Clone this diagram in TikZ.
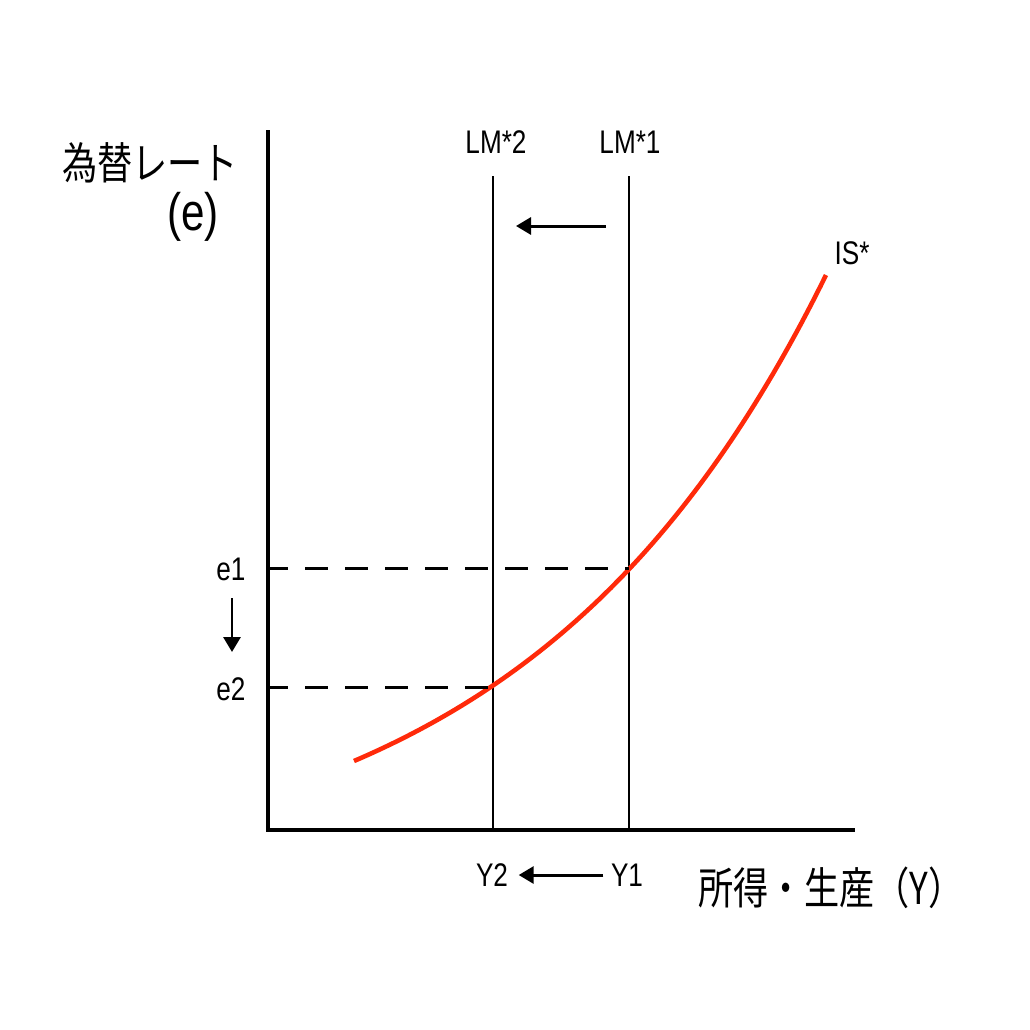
\documentclass[tikz,border=0pt]{standalone}
\usepackage{fontspec}
\setmainfont{Liberation Sans}[FakeStretch=0.8]
\newfontfamily\jpfont{Noto Sans CJK JP}[FakeStretch=0.8]
\usetikzlibrary{arrows.meta}
\definecolor{isred}{HTML}{FF2A0A}

\begin{document}
\begin{tikzpicture}[x=0.01cm, y=-0.01cm]
    \tikzstyle{every node}=[align=center, inner sep=0pt];
    \tikzstyle{small} = [font=\fontsize{9.3}{11}\selectfont]
    \tikzstyle{axistext} = [font=\fontsize{12.5}{15}\selectfont\jpfont]
    \tikzstyle{axis} = [line width=1.3pt]
    \tikzstyle{lm} = [line width=0.7pt]
    \tikzstyle{guide} = [line width=0.85pt, dash pattern=on 0.23cm off 0.17cm, dash phase=0.03cm]
    \tikzstyle{flow} = [-{Triangle[length=0.15cm, width=0.17cm]}, line width=0.85pt]
    \tikzstyle{isline} = [line width=1.3pt, draw=isred]

    \useasboundingbox (0,0) rectangle (1030,1030);

    % axes
    \coordinate (O) at (268,830);
    \coordinate (Ytop) at (268,130);
    \coordinate (Xend) at (855,830);
    \draw[axis] (Ytop) -- (O) -- (Xend);

    \node[axistext] (ylab) at (150,163) {為替レート};
    \node[font=\fontsize{15}{18}\selectfont] (ysym) at (193,217) {(e)};
    \node[axistext] (xlab) at (831,888) {所得・生産（Y）};

    % LM* curves
    \node[small] (LM2) at (496,142) {LM*2};
    \node[small] (LM1) at (630,142) {LM*1};
    \coordinate (lm2top) at (493,176);
    \coordinate (lm2bot) at (493,830);
    \coordinate (lm1top) at (629,176);
    \coordinate (lm1bot) at (629,830);
    \draw[lm] (lm2top) -- (lm2bot);
    \draw[lm] (lm1top) -- (lm1bot);

    \coordinate (shiftA) at (606,226);
    \coordinate (shiftB) at (516,226);
    \draw[flow] (shiftA) -- (shiftB);

    % IS* curve
    \draw[isline] plot[domain=354:826, samples=80] (\x, {830 - (130*exp(0.0033*(\x-354)) - 61)});
    \node[small] (IS) at (852,253) {IS*};

    % equilibria
    \coordinate (E1) at (629,568);
    \coordinate (E2) at (493,687);
    \draw[guide] (O |- E1) -- (E1);
    \draw[guide] (O |- E2) -- (E2);

    \node[small] (e1) at (231,569) {e1};
    \node[small] (e2) at (231,689) {e2};
    \coordinate (eA) at (232,598);
    \coordinate (eB) at (232,652);
    \draw[flow] (eA) -- (eB);

    \node[small] (Y2) at (492,875) {Y2};
    \node[small] (Y1) at (627,875) {Y1};
    \draw[flow, shorten <=0.07cm, shorten >=0.1cm] (Y1.west) -- (Y2.east);

\end{tikzpicture}
\end{document}
